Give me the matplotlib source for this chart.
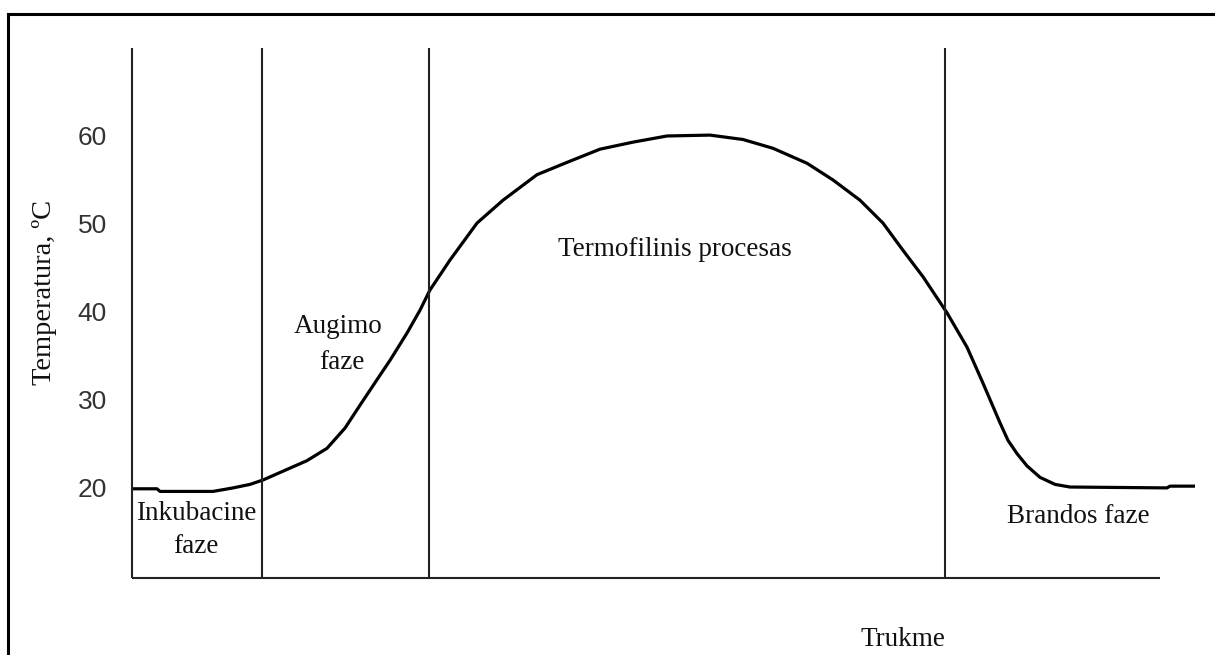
import matplotlib.pyplot as plt
from matplotlib.lines import Line2D

# curve (time in arbitrary units, temperature in C)
time = [0, 2.5, 2.8, 8.1, 10.1, 11.8, 13.1, 15.1, 17.5, 19.5, 21.3, 22.8,
        24.5, 25.8, 27.5, 28.8, 29.8, 31.8, 34.5, 37.1, 40.5, 43.5, 46.8,
        50.1, 53.5, 57.8, 61.1, 64.1, 67.5, 70.1, 72.8, 75.1, 77.1, 79.1,
        81.5, 83.5, 85.1, 86.8, 87.6, 88.5, 89.5, 90.8, 92.3, 93.8, 103.5,
        103.8, 106.3]
temp = [19.8, 19.8, 19.5, 19.5, 19.9, 20.3, 20.8, 21.8, 23.0, 24.4, 26.7, 29.3,
        32.2, 34.4, 37.5, 40.1, 42.4, 45.8, 50.0, 52.6, 55.5, 56.9, 58.4,
        59.2, 59.9, 60.0, 59.5, 58.5, 56.8, 54.9, 52.6, 50.0, 46.9, 43.9,
        39.8, 35.9, 31.8, 27.3, 25.3, 23.8, 22.4, 21.1, 20.3, 20.0, 19.9,
        20.1, 20.1]

phase_bounds = [0, 13.0, 29.7, 81.3]
y_ticks = [20, 30, 40, 50, 60]
axis_end = 102.8
y_lo, y_hi = 9.66, 69.9

serif = "Liberation Serif"
fs = 19.5

W, H = 1215, 655
fig = plt.figure(figsize=(W / 100, H / 100), dpi=100)
ax = fig.add_axes([132 / W, (H - 578) / H, (1201 - 132) / W, (578 - 48) / H])

ax.plot(time, temp, color="black", lw=2.3, solid_joinstyle="round",
        solid_capstyle="butt", clip_on=False)
ax.vlines(phase_bounds, y_lo, y_hi, color="#222222", lw=1.5, clip_on=False)
ax.hlines(y_lo, 0, axis_end, color="#222222", lw=1.5, clip_on=False)

ax.set_xlim(0, 106.9)
ax.set_ylim(y_lo, y_hi)
for s in ax.spines.values():
    s.set_visible(False)
ax.set_xticks([])
ax.set_yticks(y_ticks)
ax.tick_params(axis="y", length=0, pad=18, labelsize=19)
for lab in ax.get_yticklabels():
    lab.set_fontfamily("Liberation Sans")
    lab.set_color("#333333")

# phase labels
txt = dict(family=serif, fontsize=fs, color="#111111", ha="center", va="center")
ax.text(6.4, 17.0, "Inkubacine", **txt)
ax.text(6.4, 13.2, "faze", **txt)
ax.text(20.6, 38.2, "Augimo", **txt)
ax.text(21.0, 34.2, "faze", **txt)
ax.text(54.3, 47.0, "Termofilinis procesas", **txt)
ax.text(94.6, 16.7, "Brandos faze", **txt)

fig.text(45 / W, 1 - 292 / H, "Temperatura, \u00baC", family=serif, fontsize=20.5,
         color="#111111", rotation=90, ha="center", va="center")
fig.text(903 / W, 1 - 640 / H, "Trukme", family=serif, fontsize=fs,
         color="#111111", ha="center", va="center")

# outer frame (only left and top edges are visible in the reference)
fig.add_artist(Line2D([8 / W, 8 / W], [0, 1 - 14 / H], color="black", lw=2.2,
                      transform=fig.transFigure))
fig.add_artist(Line2D([8 / W, 1], [1 - 14 / H, 1 - 14 / H], color="black", lw=2.2,
                      transform=fig.transFigure))

fig.savefig("out.png", dpi=100)
